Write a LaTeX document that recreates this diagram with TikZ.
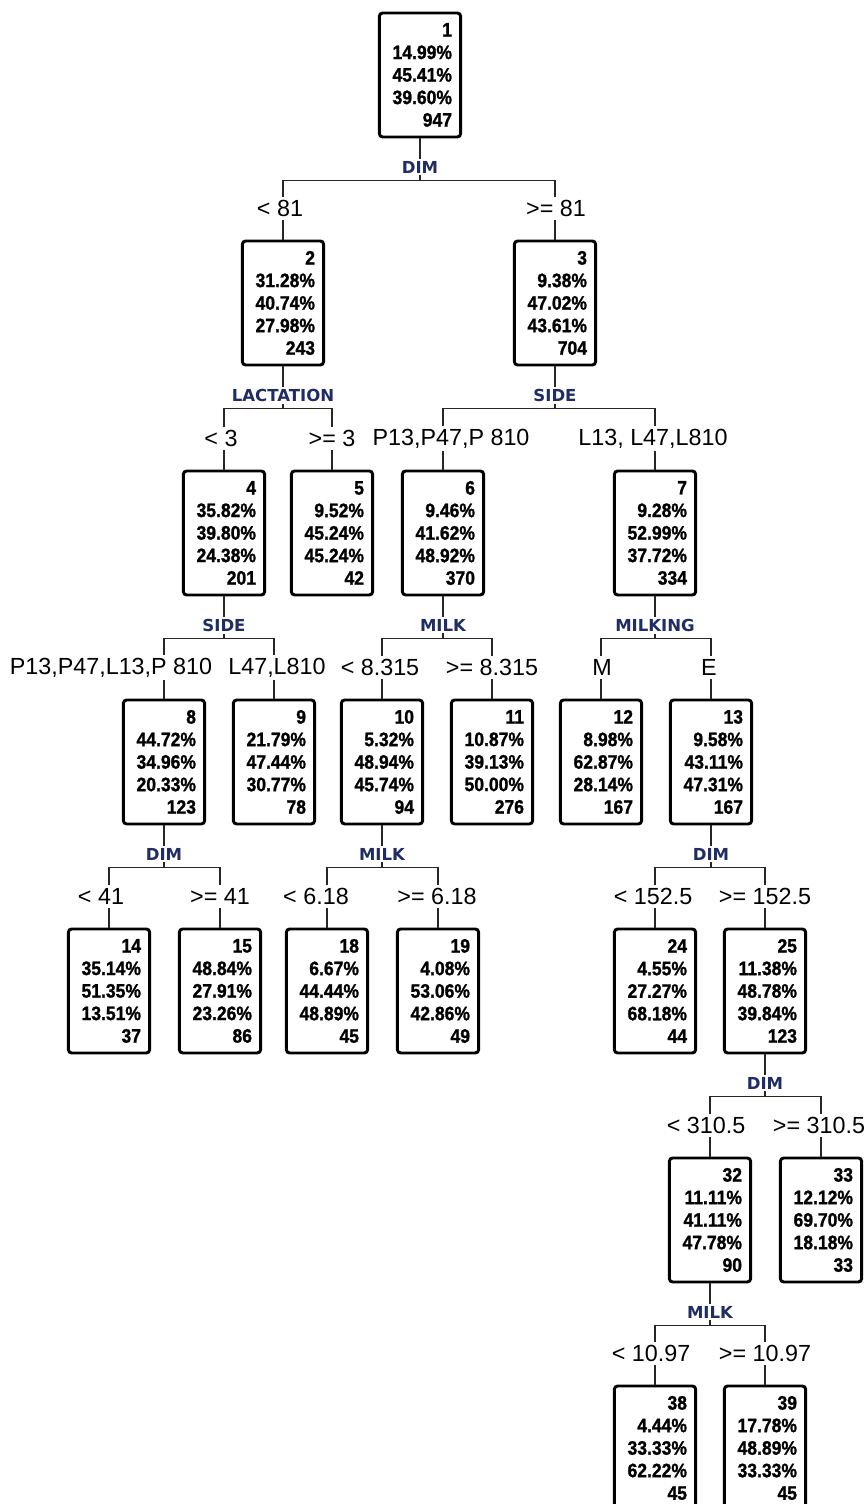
\documentclass[tikz,border=0pt]{standalone}
\usepackage{fontspec}
\setmainfont{Liberation Sans}
\newfontfamily\boxfont{Liberation Sans}[FakeStretch=0.9,FakeBold=1.2]
\newfontfamily\varfont{DejaVu Sans}
\usetikzlibrary{calc,positioning}
\definecolor{varblue}{RGB}{31,45,100}
\tikzset{
    tree box/.style={draw,thick,line width=2.2pt,rounded corners=2.5pt,fill=white,
      anchor=north,align=right,text width=48pt,inner xsep=6.5pt,inner ysep=0pt,
      minimum height=93pt,font=\boxfont\bfseries\fontsize{14.6}{16.9}\selectfont},
    tree edge/.style={draw=black!85,line width=0.9pt},
    var label/.style={fill=white,inner sep=1.5pt,text=varblue,
      font=\varfont\bfseries\fontsize{12.4}{12.4}\selectfont},
    cond label/.style={fill=white,inner xsep=1pt,inner ysep=2.5pt,
      font=\fontsize{17.5}{17.5}\selectfont}
}

\begin{document}
\begin{tikzpicture}[x=0.75pt,y=-0.75pt]
  \useasboundingbox (0,0) rectangle (868,1504);
  % boxes: id / x / top / three shares / count
  \foreach \id/\x/\t/\a/\b/\c/\n in {
      1/420/11.5/14.99/45.41/39.60/947,
      2/283/239.5/31.28/40.74/27.98/243, 3/555/239.5/9.38/47.02/43.61/704,
      4/224/469.5/35.82/39.80/24.38/201, 5/332/469.5/9.52/45.24/45.24/42,
      6/443/469.5/9.46/41.62/48.92/370, 7/655/469.5/9.28/52.99/37.72/334,
      8/164/698.5/44.72/34.96/20.33/123, 9/274/698.5/21.79/47.44/30.77/78,
      10/382/698.5/5.32/48.94/45.74/94, 11/492/698.5/10.87/39.13/50.00/276,
      12/601/698.5/8.98/62.87/28.14/167, 13/711/698.5/9.58/43.11/47.31/167,
      14/109/927.5/35.14/51.35/13.51/37, 15/220/927.5/48.84/27.91/23.26/86,
      18/327/927.5/6.67/44.44/48.89/45, 19/438/927.5/4.08/53.06/42.86/49,
      24/655/927.5/4.55/27.27/68.18/44, 25/765/927.5/11.38/48.78/39.84/123,
      32/710/1156.5/11.11/41.11/47.78/90, 33/821/1156.5/12.12/69.70/18.18/33,
      38/655/1384.5/4.44/33.33/62.22/45, 39/765/1384.5/17.78/48.89/33.33/45}
    \node[tree box] (n\id) at (\x,\t) {\id\\\a\%\\\b\%\\\c\%\\\n};

  % splits
  \foreach \c/\p/\txt/\s in {
      2/1/{< 81}/-3, 3/1/{>= 81}/1,
      4/2/{< 3}/-3, 5/2/{>= 3}/0,
      6/3/{P13,P47,P 810}/8, 7/3/{L13, L47,L810}/-2,
      8/4/{P13,P47,L13,P 810}/-53, 9/4/{L47,L810}/3,
      10/6/{< 8.315}/-2, 11/6/{>= 8.315}/0,
      12/7/M/1, 13/7/E/-2,
      14/8/{< 41}/-8, 15/8/{>= 41}/0,
      18/10/{< 6.18}/-11, 19/10/{>= 6.18}/-1,
      24/13/{< 152.5}/-2, 25/13/{>= 152.5}/0,
      32/25/{< 310.5}/-4, 33/25/{>= 310.5}/-2,
      38/32/{< 10.97}/-4, 39/32/{>= 10.97}/0}
  {
    \draw[tree edge] (n\p.south) -- ++(0,42) -| (n\c.north);
    \node[cond label] (c\c) at ($(n\c.north)+(\s,-31)$) {\txt};
  }

  \foreach \p/\v in {1/DIM, 2/LACTATION, 3/SIDE, 4/SIDE, 6/MILK, 7/MILKING,
      8/DIM, 10/MILK, 13/DIM, 25/DIM, 32/MILK}
    \node[var label] (v\p) at ($(n\p.south)+(0,29)$) {\v};
\end{tikzpicture}
\end{document}
